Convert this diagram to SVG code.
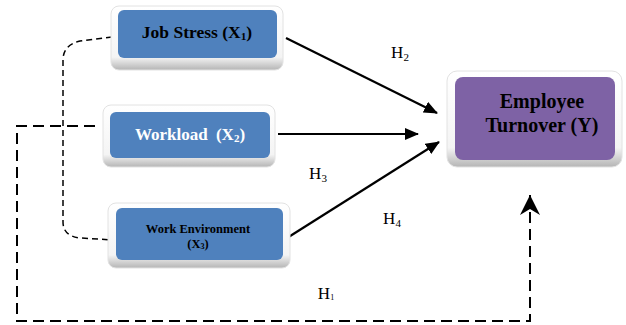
<svg xmlns="http://www.w3.org/2000/svg" width="626" height="325" viewBox="0 0 626 325">
<style>
.frame{fill:url(#fr);stroke:#e2e2e2;stroke-width:1}
.blue{fill:#4F81BD}
.purple{fill:#7E62A5}
text{font-family:'Liberation Serif','Times New Roman',Tinos,serif}
.t{font-weight:bold;text-anchor:middle}
.h{font-size:17px;text-anchor:middle;fill:#000}
.sub{font-size:65%}
.solid{stroke:#000;stroke-width:2.2;fill:none}
.ldash{stroke:#000;stroke-width:2;fill:none;stroke-dasharray:11 6}
.sdash{stroke:#000;stroke-width:1.5;fill:none;stroke-dasharray:6 4}
</style>
<defs>
<linearGradient id="fr" x1="0" y1="0" x2="0" y2="1">
<stop offset="0" stop-color="#ffffff"/>
<stop offset="0.8" stop-color="#f4f4f4"/>
<stop offset="1" stop-color="#b5b5b5"/>
</linearGradient>
<marker id="ah" markerWidth="14" markerHeight="12" refX="13" refY="6" orient="auto" markerUnits="userSpaceOnUse">
<path d="M0,0 L14,6 L0,12 Z" fill="#000"/>
</marker>
<marker id="ah2" markerWidth="22" markerHeight="22" refX="20" refY="11" orient="auto" markerUnits="userSpaceOnUse">
<path d="M0,1 L20,11 L0,21 L6,11 Z" fill="#000"/>
</marker>
</defs>
<rect width="626" height="325" fill="#fff"/>
<g id="connectors">
<path class="sdash" d="M112,37 L80,41 Q63,45 63,60 L63,222 Q63,236 80,238 L113,240"/>
<path class="ldash" d="M95,126 L17,126 L17,321 L530,321 L530,195" marker-end="url(#ah2)"/>
<line class="solid" x1="286" y1="38" x2="437" y2="113" marker-end="url(#ah)"/>
<line class="solid" x1="278" y1="134" x2="418" y2="134" marker-end="url(#ah)"/>
<line class="solid" x1="287" y1="238" x2="439" y2="142" marker-end="url(#ah)"/>
</g>
<g id="labels">
<text class="h" x="400" y="58">H<tspan class="sub" dy="3">2</tspan></text>
<text class="h" x="318" y="179">H<tspan class="sub" dy="3">3</tspan></text>
<text class="h" x="392" y="224">H<tspan class="sub" dy="3">4</tspan></text>
<text class="h" x="326" y="299">H<tspan font-size="8" dy="1">1</tspan></text>
</g>
<g id="job-stress">
<rect class="frame" x="111" y="6" width="172" height="64" rx="8"/>
<rect class="blue" x="118" y="10" width="159" height="48" rx="6"/>
<text class="t" x="197" y="38" font-size="17.5" fill="#000">Job Stress (X<tspan class="sub" dy="2">1</tspan><tspan dy="-2">)</tspan></text>
</g>
<g id="workload">
<rect class="frame" x="103" y="105" width="172" height="62" rx="8"/>
<rect class="blue" x="110" y="112" width="160" height="46" rx="6"/>
<text class="t" x="190" y="140" font-size="17" fill="#fff">Workload <tspan dx="4">(X</tspan><tspan class="sub" dy="2">2</tspan><tspan dy="-2">)</tspan></text>
</g>
<g id="work-environment">
<rect class="frame" x="108" y="203" width="182" height="65" rx="8"/>
<rect class="blue" x="116" y="208" width="167" height="52" rx="6"/>
<text class="t" x="198" y="233" font-size="12.5" fill="#000">Work Environment</text>
<text class="t" x="198" y="248" font-size="12.5" fill="#000">(X<tspan class="sub" dy="1">3</tspan><tspan dy="-1">)</tspan></text>
</g>
<g id="employee-turnover">
<rect class="frame" x="447" y="71" width="175" height="96" rx="10"/>
<rect class="purple" x="455" y="77" width="160" height="83" rx="8"/>
<text class="t" x="542" y="108" font-size="20" fill="#000">Employee</text>
<text class="t" x="542" y="132" font-size="20" fill="#000">Turnover (Y)</text>
</g>
</svg>
